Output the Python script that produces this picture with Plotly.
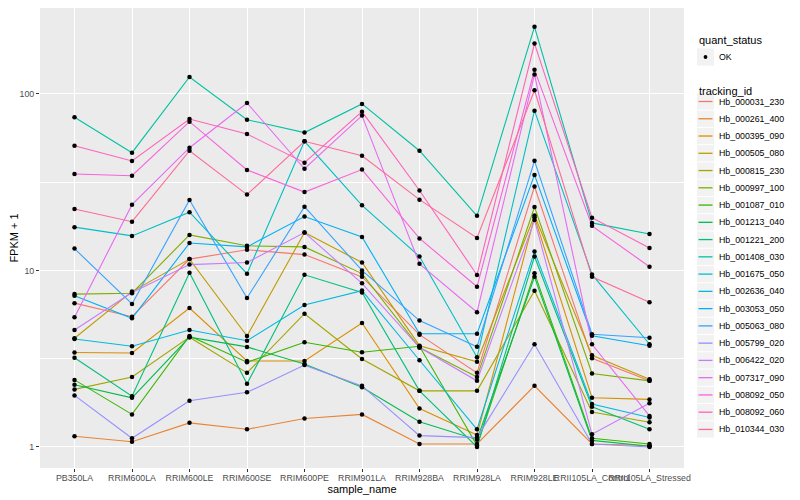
import math
import plotly.graph_objects as go

samples = ["PB350LA", "RRIM600LA", "RRIM600LE", "RRIM600SE", "RRIM600PE", "RRIM901LA",
           "RRIM928BA", "RRIM928LA", "RRIM928LE", "RRII105LA_Control", "RRII105LA_Stressed"]

tracking_ids = ["Hb_000031_230", "Hb_000261_400", "Hb_000395_090", "Hb_000505_080",
                "Hb_000815_230", "Hb_000997_100", "Hb_001087_010", "Hb_001213_040",
                "Hb_001221_200", "Hb_001408_030", "Hb_001675_050", "Hb_002636_040",
                "Hb_003053_050", "Hb_005063_080", "Hb_005799_020", "Hb_006422_020",
                "Hb_007317_090", "Hb_008092_050", "Hb_008092_060", "Hb_010344_030"]

# FPKM + 1 values, one list per tracking_id, in sample order
hb_000031_230 = [6.53, 5.47, 11.6, 13.1, 12.3, 9.2, 4.33, 2.63, 29.9, 3.18, 2.37]
hb_000261_400 = [1.15, 1.07, 1.37, 1.26, 1.45, 1.53, 1.04, 1.04, 2.22, 1.04, 1.02]
hb_000395_090 = [3.43, 3.41, 6.13, 3.07, 3.07, 5.04, 1.65, 1.17, 20.0, 1.90, 1.86]
hb_000505_080 = [4.13, 7.59, 11.6, 4.25, 16.4, 11.1, 3.75, 3.04, 20.5, 3.31, 2.42]
hb_000815_230 = [2.12, 2.49, 4.19, 2.63, 5.69, 3.15, 2.08, 2.08, 7.67, 1.58, 1.38]
hb_000997_100 = [7.35, 7.43, 15.9, 13.8, 13.6, 9.6, 3.66, 2.49, 22.9, 2.61, 2.37]
hb_001087_010 = [2.40, 1.53, 4.26, 3.02, 3.92, 3.44, 3.72, 1.02, 9.66, 1.12, 1.04]
hb_001213_040 = [2.25, 1.90, 4.19, 3.69, 2.95, 2.18, 1.39, 1.10, 9.2, 1.09, 1.01]
hb_001221_200 = [3.20, 1.94, 9.72, 2.28, 9.45, 7.5, 2.08, 1.0, 12.0, 1.69, 1.26]
hb_001408_030 = [73.8, 46.5, 124.8, 71.5, 60.4, 87.8, 47.7, 20.4, 240.0, 18.6, 16.1]
hb_001675_050 = [17.6, 15.7, 21.4, 9.59, 53.9, 23.4, 12.0, 3.22, 80.4, 9.5, 3.82]
hb_002636_040 = [4.09, 3.72, 4.60, 4.00, 6.37, 7.69, 3.10, 1.26, 12.8, 1.75, 1.47]
hb_003053_050 = [7.2, 5.36, 14.3, 13.6, 20.2, 15.5, 4.38, 4.38, 34.8, 4.27, 3.75]
hb_005063_080 = [13.3, 6.46, 25.1, 6.98, 23.0, 10.0, 5.2, 3.70, 41.8, 4.35, 4.16]
hb_005799_020 = [1.96, 1.12, 1.83, 2.04, 2.91, 2.22, 1.16, 1.13, 3.82, 1.04, 1.0]
hb_006422_020 = [4.60, 7.5, 10.8, 11.1, 16.4, 8.46, 3.66, 2.37, 19.3, 1.18, 1.77]
hb_007317_090 = [5.43, 23.6, 49.6, 88.9, 37.7, 75.4, 10.9, 5.8, 129.0, 3.82, 1.50]
hb_008092_050 = [35.2, 34.4, 69.7, 37.1, 27.8, 37.3, 15.2, 8.09, 137.0, 17.9, 10.5]
hb_008092_060 = [50.9, 41.7, 72.1, 59.3, 40.8, 79.4, 28.4, 9.43, 193.0, 19.9, 13.4]
hb_010344_030 = [22.3, 18.9, 47.7, 26.9, 53.9, 44.7, 25.2, 15.3, 105.0, 9.2, 6.6]

series = [hb_000031_230, hb_000261_400, hb_000395_090, hb_000505_080, hb_000815_230,
          hb_000997_100, hb_001087_010, hb_001213_040, hb_001221_200, hb_001408_030,
          hb_001675_050, hb_002636_040, hb_003053_050, hb_005063_080, hb_005799_020,
          hb_006422_020, hb_007317_090, hb_008092_050, hb_008092_060, hb_010344_030]

quant_status = "OK"
y_ticks = [1, 10, 100]
y_tick_labels = ["1", "10", "100"]


def hcl_hex(h, c=100.0, l=65.0):
    # R grDevices::hcl (polar LUV, D65) -> sRGB hex
    WY, Wu, Wv = 100.0, 0.1978398, 0.4683363
    hr = math.radians(h)
    U, V = c * math.cos(hr), c * math.sin(hr)
    Y = WY * (((l + 16.0) / 116.0) ** 3 if l > 7.999592 else l / 903.3)
    u = U / (13.0 * l) + Wu
    v = V / (13.0 * l) + Wv
    X = 9.0 * Y * u / (4.0 * v)
    Z = -X / 3.0 - 5.0 * Y + 3.0 * Y / v
    rgb = [(3.240479 * X - 1.537150 * Y - 0.498535 * Z) / WY,
           (-0.969256 * X + 1.875992 * Y + 0.041556 * Z) / WY,
           (0.055648 * X - 0.204043 * Y + 1.057311 * Z) / WY]
    out = []
    for t in rgb:
        t = 1.055 * t ** (1 / 2.4) - 0.055 if t > 0.00304 else 12.92 * t
        out.append(int(round(255 * min(1.0, max(0.0, t)))))
    return "#%02X%02X%02X" % tuple(out)


n = len(tracking_ids)
colors = [hcl_hex(15 + 360.0 * i / n) for i in range(n)]

fig = go.Figure()

for i, (tid, vals) in enumerate(zip(tracking_ids, series)):
    fig.add_trace(go.Scatter(
        x=samples, y=vals, mode="lines", name=tid,
        line=dict(color=colors[i], width=1.1), showlegend=False,
    ))

all_x, all_y = [], []
for vals in series:
    all_x.extend(samples)
    all_y.extend(vals)

fig.add_trace(go.Scatter(
    x=all_x, y=all_y, mode="markers", name=quant_status,
    marker=dict(color="black", size=4.5), showlegend=False,
))

# ---- layout geometry (figure is drawn 8px offset by the page body margin) ----
W, H = 800, 500
ML, MR, MT, MB = 32, 124, 0, 40
PW, PH = W - ML - MR, H - MT - MB


def px(xp):  # page x -> paper x
    return (xp - 8 - ML) / PW


def py(yp):  # page y -> paper y
    return 1 - (yp - 8 - MT) / PH


shapes, annotations = [], []
lx0, lx1 = 697, 714
txt_x = 717
key_h = 17.26

annotations.append(dict(x=px(lx0), y=py(40), xref="paper", yref="paper", text="quant_status",
                        showarrow=False, xanchor="left", yanchor="middle",
                        font=dict(size=11, color="black")))
shapes.append(dict(type="rect", xref="paper", yref="paper", x0=px(lx0), x1=px(lx1),
                   y0=py(57 - key_h / 2), y1=py(57 + key_h / 2),
                   fillcolor="#F2F2F2", line=dict(width=0), layer="above"))
shapes.append(dict(type="circle", xref="paper", yref="paper", x0=px(703.6), x1=px(707.4),
                   y0=py(55.1), y1=py(58.9), fillcolor="black", line=dict(width=0), layer="above"))
annotations.append(dict(x=px(txt_x), y=py(57), xref="paper", yref="paper", text=quant_status,
                        showarrow=False, xanchor="left", yanchor="middle",
                        font=dict(size=8.8, color="black")))

annotations.append(dict(x=px(lx0), y=py(91), xref="paper", yref="paper", text="tracking_id",
                        showarrow=False, xanchor="left", yanchor="middle",
                        font=dict(size=11, color="black")))
for i, tid in enumerate(tracking_ids):
    yc = 101.5 + key_h * i
    shapes.append(dict(type="rect", xref="paper", yref="paper", x0=px(lx0), x1=px(lx1),
                       y0=py(yc - key_h / 2 + 0.5), y1=py(yc + key_h / 2 - 0.5),
                       fillcolor="#F2F2F2", line=dict(width=0), layer="above"))
    shapes.append(dict(type="line", xref="paper", yref="paper", x0=px(698.5), x1=px(712.5),
                       y0=py(yc), y1=py(yc), line=dict(color=colors[i], width=1.3), layer="above"))
    annotations.append(dict(x=px(txt_x), y=py(yc), xref="paper", yref="paper", text=tid,
                            showarrow=False, xanchor="left", yanchor="middle",
                            font=dict(size=8.8, color="black")))

fig.update_layout(
    width=W, height=H,
    margin=dict(l=ML, r=MR, t=MT, b=MB, autoexpand=False),
    paper_bgcolor="white", plot_bgcolor="#EBEBEB",
    font=dict(family="Liberation Sans, Arial, sans-serif", size=11, color="black"),
    xaxis=dict(
        type="category", categoryorder="array", categoryarray=samples,
        range=[-0.6, 10.6], showgrid=True, gridcolor="white", gridwidth=1.1,
        ticks="outside", ticklen=3, tickcolor="#333333", tickangle=0,
        tickfont=dict(size=8.8, color="#4D4D4D"), zeroline=False, showline=False,
        ticklabelstandoff=-2,
        title=dict(text="sample_name", font=dict(size=11), standoff=2), automargin=False,
    ),
    yaxis=dict(
        type="log", range=[-0.119, 2.487],
        tickvals=y_ticks, ticktext=y_tick_labels,
        showgrid=True, gridcolor="white", gridwidth=1.1,
        minor=dict(tickvals=[10 ** 0.5, 10 ** 1.5], showgrid=True,
                   gridcolor="white", gridwidth=0.5),
        ticks="outside", ticklen=3, tickcolor="#333333",
        tickfont=dict(size=8.8, color="#4D4D4D"), zeroline=False, showline=False,
        title=dict(text="FPKM + 1", font=dict(size=11), standoff=0), automargin=False,
    ),
    shapes=shapes, annotations=annotations,
    showlegend=False,
)

fig.write_html("out.html")
